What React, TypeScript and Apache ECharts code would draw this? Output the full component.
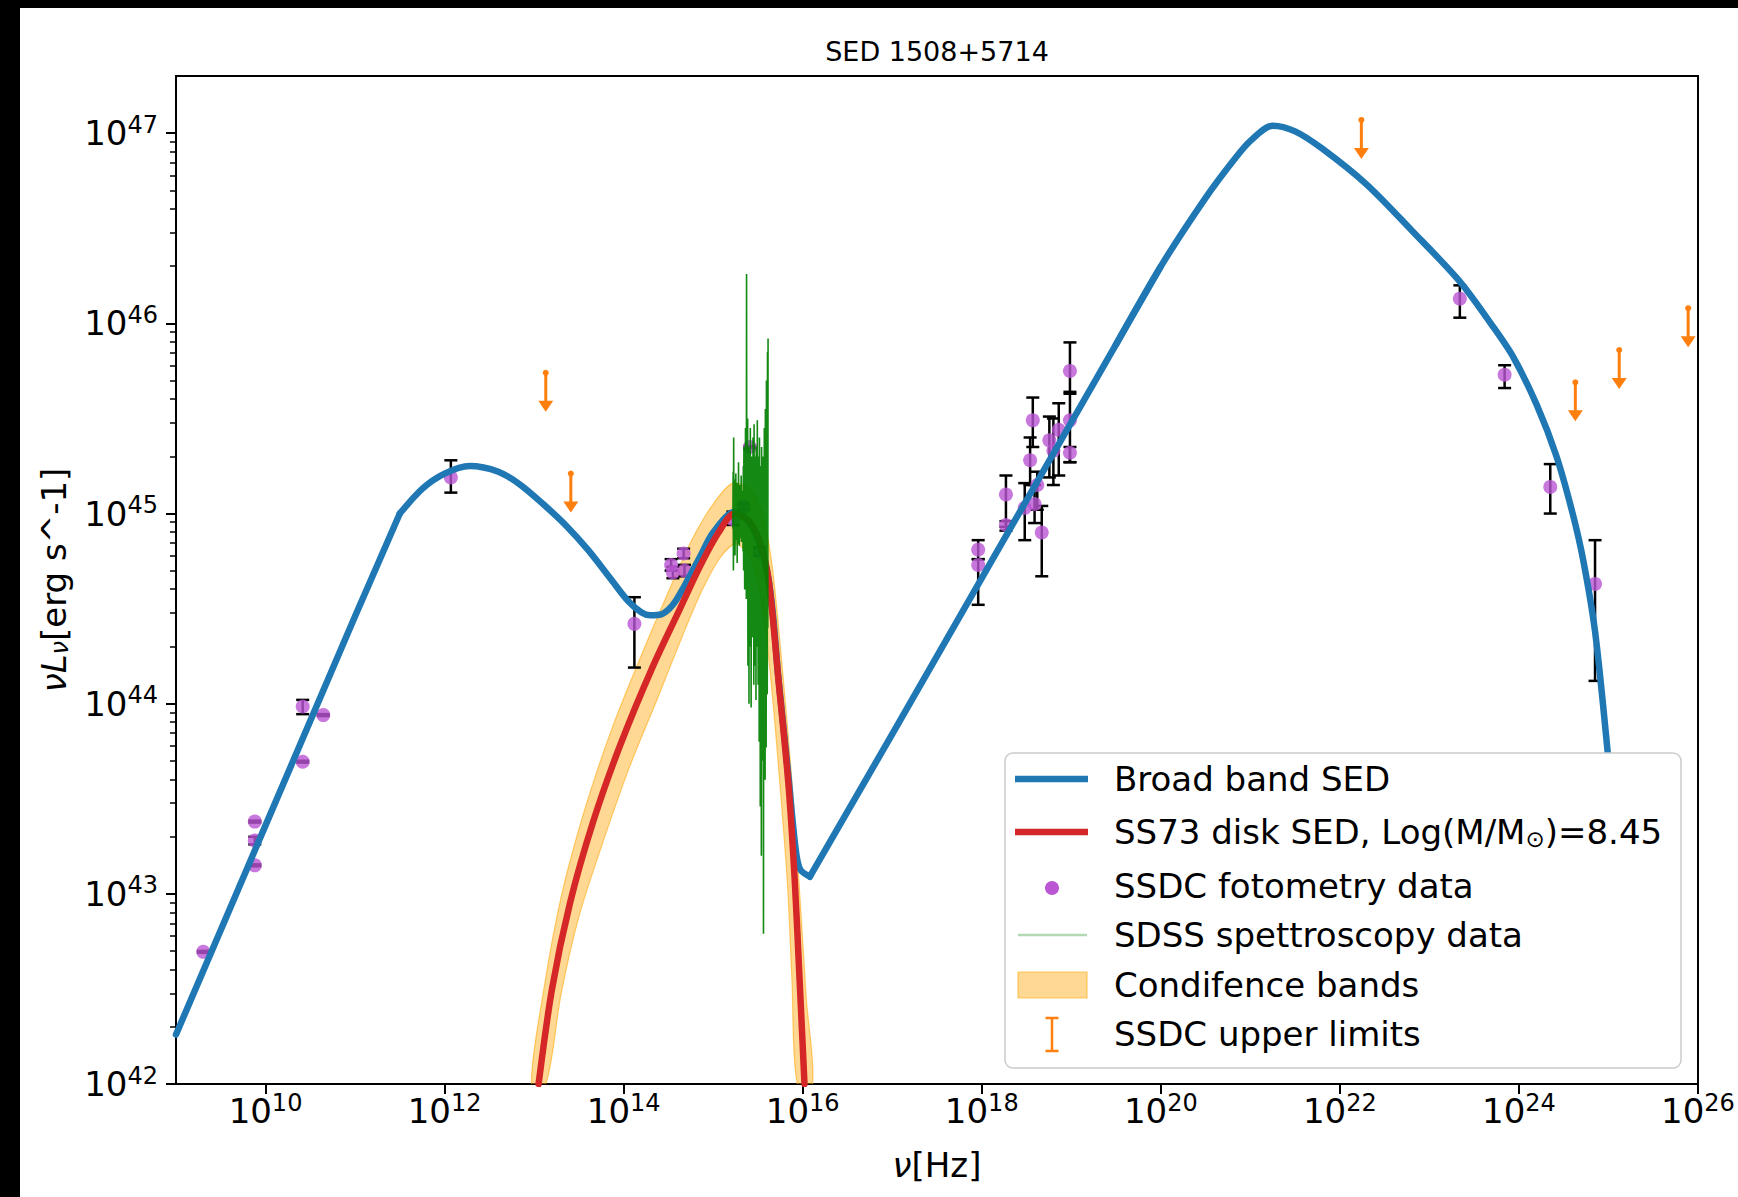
import React, { useEffect, useRef } from "react";
import * as echarts from "echarts";

const FONT = "DejaVu Sans";
const BLUE = "#1f77b4";
const RED = "#d62728";
const ORANGE = "#ff7f0e";
const PURPLE = "#ba55d3";
const BAND = "rgba(255, 165, 0, 0.42)";
const BAND_EDGE = "rgba(255, 165, 0, 0.55)";
const SPEC = "#008000";

const TITLE = "SED 1508+5714";

// All values are log10(nu / Hz) and log10(nu L_nu / erg s^-1)

// Broad band SED (blue)
const sedLogNu = [9.0, 10.0, 11.0, 11.5, 11.75, 12.0, 12.28, 12.6, 12.85, 13.1, 13.35, 13.6, 13.85, 14.05, 14.2, 14.3, 14.42, 14.55, 14.68, 14.85, 15.0, 15.24, 15.45, 15.62, 15.73, 15.84, 15.92, 15.97, 16.08, 17.0, 18.0, 19.0, 19.5, 20.0, 20.5, 20.8, 21.0, 21.25, 21.5, 21.8, 22.3, 22.8, 23.34, 23.7, 23.94, 24.2, 24.42, 24.6, 24.72, 24.85, 24.98, 25.1];
const sedLogL = [42.26, 43.36, 44.46, 45.0, 45.13, 45.21, 45.25, 45.22, 45.15, 45.05, 44.94, 44.81, 44.66, 44.54, 44.48, 44.465, 44.47, 44.52, 44.62, 44.77, 44.9, 45.01, 44.92, 44.65, 44.13, 43.62, 43.24, 43.13, 43.09, 43.84, 44.66, 45.48, 45.89, 46.3, 46.66, 46.85, 46.96, 47.04, 47.01, 46.92, 46.73, 46.49, 46.22, 45.99, 45.82, 45.57, 45.3, 45.0, 44.75, 44.38, 43.8, 43.2];
// where the broad band curve changes character: [start, end, smoothness]
const sedPieces = [
  [9.0, 11.5, 0],
  [11.5, 16.08, 0.3],
  [16.08, 20.0, 0],
  [19.5, 25.1, 0.3],
];

// SS73 disk SED (red)
const diskLogNu = [13.05, 13.2, 13.4, 13.66, 13.96, 14.33, 14.63, 14.85, 15.06, 15.24, 15.4, 15.52, 15.62, 15.73, 15.84, 15.91, 15.96, 16.02];
const diskLogL = [42.0, 42.5, 42.95, 43.38, 43.78, 44.2, 44.5, 44.72, 44.9, 45.0, 44.96, 44.85, 44.65, 44.12, 43.58, 43.08, 42.6, 42.0];

// Confidence band: outer edge then inner edge
const bandOuterLogNu = [12.97, 13.12, 13.31, 13.57, 13.87, 14.22, 14.52, 14.76, 15.0, 15.22, 15.42, 15.56, 15.66, 15.76, 15.87, 15.96, 16.04, 16.11];
const bandOuterLogL = [42.0, 42.53, 43.0, 43.45, 43.87, 44.28, 44.61, 44.86, 45.05, 45.16, 45.12, 44.98, 44.72, 44.25, 43.65, 43.05, 42.45, 42.0];
const bandInnerLogNu = [15.94, 15.88, 15.83, 15.75, 15.66, 15.56, 15.44, 15.26, 15.08, 14.88, 14.66, 14.38, 14.06, 13.76, 13.5, 13.3, 13.13];
const bandInnerLogL = [42.0, 42.55, 43.05, 43.55, 44.05, 44.48, 44.74, 44.84, 44.77, 44.6, 44.36, 44.03, 43.66, 43.26, 42.88, 42.47, 42.0];

// SDSS spectrum
const sdssSpectrum = [
  [15.22, 44.92], [15.223, 45.22], [15.226, 44.7], [15.229, 45.4], [15.232, 44.82], [15.235, 45.12], [15.238, 44.88], [15.241, 45.18], [15.244, 44.78], [15.247, 45.05],
  [15.25, 44.94], [15.253, 45.21], [15.256, 44.86], [15.259, 45.08], [15.262, 44.92], [15.265, 45.16], [15.268, 44.74], [15.271, 45.02], [15.274, 44.95], [15.277, 45.12],
  [15.28, 44.84], [15.283, 45.27], [15.286, 44.9], [15.289, 45.06], [15.292, 44.83], [15.295, 45.1], [15.298, 44.94], [15.301, 45.15], [15.304, 44.87], [15.307, 45.02],
  [15.31, 44.92], [15.313, 45.2], [15.316, 44.85], [15.319, 45.08], [15.322, 44.96], [15.325, 45.12], [15.328, 44.9], [15.331, 45.05],
  [15.334, 44.8], [15.337, 45.25], [15.34, 44.7], [15.343, 45.35], [15.346, 44.9], [15.349, 45.15], [15.352, 44.6], [15.355, 45.3], [15.358, 44.85], [15.361, 45.45],
  [15.364, 44.75], [15.367, 45.2], [15.37, 44.55], [15.373, 46.26], [15.376, 44.8], [15.379, 45.4], [15.382, 44.65], [15.385, 45.5], [15.388, 44.2], [15.391, 45.3],
  [15.394, 44.6], [15.397, 45.15], [15.4, 44.0], [15.403, 45.35], [15.406, 44.5], [15.409, 45.2], [15.412, 44.3], [15.415, 45.45], [15.418, 44.7], [15.421, 45.1],
  [15.424, 43.98], [15.427, 45.3], [15.43, 44.55], [15.433, 45.25], [15.436, 44.35], [15.439, 45.05], [15.442, 44.6], [15.445, 45.4],
  [15.448, 44.4], [15.451, 45.2], [15.454, 44.1], [15.457, 45.47], [15.46, 44.5], [15.463, 45.1], [15.466, 44.2], [15.469, 45.3], [15.472, 44.45], [15.475, 45.15],
  [15.478, 44.02], [15.481, 45.35], [15.484, 44.6], [15.487, 45.25], [15.49, 44.3], [15.493, 45.49], [15.496, 44.55], [15.499, 45.1], [15.502, 44.1], [15.505, 45.3],
  [15.508, 44.4], [15.511, 45.2], [15.514, 43.8], [15.517, 45.4], [15.52, 44.5], [15.523, 45.05], [15.526, 43.46], [15.529, 45.25], [15.532, 44.2], [15.535, 45.1],
  [15.538, 43.2], [15.541, 45.35], [15.544, 44.0], [15.547, 45.15], [15.55, 43.7], [15.553, 45.3], [15.556, 44.3], [15.559, 45.0], [15.562, 42.79], [15.565, 45.2],
  [15.568, 43.9], [15.571, 45.45], [15.574, 44.1], [15.577, 45.25], [15.58, 43.6], [15.583, 45.55], [15.586, 44.2], [15.589, 45.3], [15.592, 43.77], [15.595, 45.7],
  [15.598, 44.3], [15.601, 45.4], [15.604, 44.05], [15.607, 45.85], [15.61, 44.4], [15.613, 45.92]
];

// SSDC photometry (value, lower and upper end of error bar)
const photLogNu = [9.305, 9.88, 9.88, 9.88, 10.415, 10.415, 10.645, 12.07, 14.12, 14.53, 14.55, 14.67, 14.68, 15.22, 15.34, 15.41, 15.52, 17.96, 17.96, 18.27, 18.27, 18.48, 18.54, 18.57, 18.59, 18.62, 18.67, 18.755, 18.8, 18.86, 18.985, 18.985, 18.985, 23.34, 23.84, 24.35, 24.85];
const photLogL = [42.695, 43.38, 43.28, 43.15, 43.985, 43.695, 43.94, 45.19, 44.42, 44.73, 44.69, 44.79, 44.7, 44.97, 45.035, 45.35, 44.8, 44.81, 44.73, 45.1, 44.94, 45.03, 45.28, 45.49, 45.05, 45.15, 44.9, 45.385, 45.33, 45.44, 45.75, 45.49, 45.32, 46.13, 45.73, 45.14, 44.63];
const photErrLo = [42.69, 43.375, 43.26, 43.145, 43.945, 43.69, 43.935, 45.11, 44.19, 44.7, 44.66, 44.765, 44.67, 44.94, 45.02, 45.345, 44.78, 44.76, 44.52, 44.93, 44.91, 44.86, 45.15, 45.35, 44.95, 45.02, 44.67, 45.19, 45.15, 45.2, 45.63, 45.27, 45.27, 46.03, 45.66, 45.0, 44.12];
const photErrHi = [42.7, 43.385, 43.3, 43.155, 44.02, 43.7, 43.945, 45.28, 44.56, 44.76, 44.72, 44.815, 44.73, 45.01, 45.05, 45.355, 44.82, 44.86, 44.76, 45.2, 44.96, 45.16, 45.4, 45.61, 45.15, 45.22, 45.04, 45.51, 45.5, 45.58, 45.9, 45.64, 45.35, 46.2, 45.78, 45.26, 44.86];

// SSDC upper limits (top of the arrow)
const ulLogNu = [13.13, 13.41, 22.24, 24.63, 25.12, 25.89];
const ulLogL = [45.74, 45.21, 47.07, 45.69, 45.86, 46.08];

// Axes
const X_MIN = 9;
const X_MAX = 26;
const Y_MIN = 42;
const Y_MAX = 47.301;
const xTickExps = [10, 12, 14, 16, 18, 20, 22, 24, 26];
const yTickExps = [42, 43, 44, 45, 46, 47];
const yMinorMultipliers = [2, 3, 4, 5, 6, 7, 8, 9];

const legendLabels = [
  "Broad band SED",
  "SS73 disk SED, Log(M/M\u2299)=8.45",
  "SSDC fotometry data",
  "SDSS spettroscopy data",
  "Condifence bands",
  "SSDC upper limits",
];

const FS = 34;
const FS_SUP = 24;

function buildOption(): any {
  const yMinor: number[] = [];
  for (let e = Y_MIN; e < 47; e++) {
    for (const m of yMinorMultipliers) yMinor.push(e + Math.log10(m));
  }

  const sed = sedLogNu.map((v, i) => [v, sedLogL[i]]);
  const disk = diskLogNu.map((v, i) => [v, diskLogL[i]]);
  const phot = photLogNu.map((v, i) => [v, photLogL[i]]);
  const err = photLogNu.map((v, i) => [v, photErrLo[i], photErrHi[i]]);
  const ul = ulLogNu.map((v, i) => [v, ulLogL[i]]);

  const sedSeries = sedPieces.map(([a, b, sm]) => ({
    type: "line",
    name: "Broad band SED",
    data: sed.filter((p) => p[0] >= a - 1e-9 && p[0] <= b + 1e-9),
    showSymbol: false,
    symbol: "none",
    smooth: sm > 0 ? sm : false,
    clip: true,
    lineStyle: { color: BLUE, width: 6.5, cap: "round", join: "round" },
  }));

  const supRich = {
    b: { fontSize: FS, fontFamily: FONT, color: "#000", verticalAlign: "middle", lineHeight: 38 },
    s: { fontSize: FS_SUP, fontFamily: FONT, color: "#000", verticalAlign: "middle", lineHeight: 26, padding: [0, 0, 17, 0] },
  };
  const expFormatter = (v: number) => {
    const r = Math.round(v);
    if (Math.abs(v - r) > 1e-6) return "";
    return `{b|10}{s|${r}}`;
  };

  const CAP = 6.5;
  const UL_LEN = 39;
  const UL_HEAD = 11;
  const UL_HW = 7.5;

  const legendRows = [779, 832, 886, 935, 985, 1034];
  const LX0 = 1015, LX1 = 1088, LXC = 1052, LTX = 1114;
  const LZ = 100;
  const textStyle = (t: string) => ({ text: t, fontSize: FS, fontFamily: FONT, fill: "#000", align: "left", verticalAlign: "middle" });

  return {
    animation: false,
    backgroundColor: "#ffffff",
    grid: { left: 176, top: 76, width: 1522, height: 1008, show: true, borderColor: "#000", borderWidth: 2, backgroundColor: "transparent", containLabel: false },
    xAxis: {
      type: "value",
      min: X_MIN,
      max: X_MAX,
      axisLine: { show: false },
      splitLine: { show: false },
      axisTick: { show: true, customValues: xTickExps, length: 10, lineStyle: { color: "#000", width: 2 } },
      axisLabel: { customValues: xTickExps, margin: 8, formatter: expFormatter, rich: supRich },
      name: "{i|\u03bd}{n|[Hz]}",
      nameLocation: "middle",
      nameGap: 64,
      nameTextStyle: {
        rich: {
          i: { fontSize: FS, fontFamily: FONT, fontStyle: "italic", color: "#000" },
          n: { fontSize: FS, fontFamily: FONT, color: "#000" },
        },
      },
    },
    yAxis: [
      {
        type: "value",
        min: Y_MIN,
        max: Y_MAX,
        axisLine: { show: false },
        splitLine: { show: false },
        axisTick: { show: true, customValues: yTickExps, length: 10, lineStyle: { color: "#000", width: 2 } },
        axisLabel: { customValues: yTickExps, margin: 18, formatter: expFormatter, rich: supRich },
        name: "{i|\u03bdL}{sub|\u03bd}{n|[erg s^-1]}",
        nameLocation: "middle",
        nameRotate: 90,
        nameGap: 104,
        nameTextStyle: {
          rich: {
            i: { fontSize: FS, fontFamily: FONT, fontStyle: "italic", color: "#000", verticalAlign: "middle" },
            sub: { fontSize: FS_SUP, fontFamily: FONT, fontStyle: "italic", color: "#000", verticalAlign: "middle", padding: [12, 0, 0, 0] },
            n: { fontSize: FS, fontFamily: FONT, color: "#000", verticalAlign: "middle" },
          },
        },
      },
      {
        type: "value",
        min: Y_MIN,
        max: Y_MAX,
        position: "left",
        axisLine: { show: false },
        splitLine: { show: false },
        axisLabel: { show: false },
        axisTick: { show: true, customValues: yMinor, length: 6, lineStyle: { color: "#000", width: 1.5 } },
      },
    ],
    series: [
      {
        type: "custom",
        name: "Condifence bands",
        clip: true,
        data: [[15.2, 44.5]],
        renderItem: (params: any, api: any) => {
          const pts: number[][] = [];
          bandOuterLogNu.forEach((v, i) => pts.push(api.coord([v, bandOuterLogL[i]])));
          bandInnerLogNu.forEach((v, i) => pts.push(api.coord([v, bandInnerLogL[i]])));
          return { type: "polygon", shape: { points: pts, smooth: 0.3 }, style: { fill: BAND, stroke: BAND_EDGE, lineWidth: 1.2 } };
        },
      },
      ...sedSeries,
      {
        type: "line",
        name: "SS73 disk SED",
        data: disk,
        showSymbol: false,
        symbol: "none",
        smooth: 0.3,
        clip: true,
        lineStyle: { color: RED, width: 6.5, cap: "round", join: "round" },
      },
      {
        type: "line",
        name: "SDSS spettroscopy data",
        data: sdssSpectrum,
        showSymbol: false,
        symbol: "none",
        clip: true,
        lineStyle: { color: SPEC, width: 1.6, opacity: 0.92 },
      },
      {
        type: "scatter",
        name: "SSDC fotometry data",
        data: phot,
        symbol: "circle",
        symbolSize: 14,
        itemStyle: { color: PURPLE },
      },
      {
        type: "custom",
        name: "errors",
        clip: false,
        data: err,
        encode: { x: 0, y: [1, 2] },
        renderItem: (params: any, api: any) => {
          const x = api.value(0);
          const a = api.coord([x, api.value(2)]);
          const b = api.coord([x, api.value(1)]);
          const st = () => ({ stroke: "#000", lineWidth: 2.5 });
          return {
            type: "group",
            children: [
              { type: "line", shape: { x1: a[0], y1: a[1], x2: b[0], y2: b[1] }, style: st() },
              { type: "line", shape: { x1: a[0] - CAP, y1: a[1], x2: a[0] + CAP, y2: a[1] }, style: st() },
              { type: "line", shape: { x1: b[0] - CAP, y1: b[1], x2: b[0] + CAP, y2: b[1] }, style: st() },
            ],
          };
        },
      },
      {
        type: "custom",
        name: "SSDC upper limits",
        clip: false,
        data: ul,
        encode: { x: 0, y: 1 },
        renderItem: (params: any, api: any) => {
          const p = api.coord([api.value(0), api.value(1)]);
          const yb = p[1] + UL_LEN - UL_HEAD;
          return {
            type: "group",
            children: [
              { type: "line", shape: { x1: p[0], y1: p[1], x2: p[0], y2: yb + 1 }, style: { stroke: ORANGE, lineWidth: 3 } },
              { type: "polygon", shape: { points: [[p[0] - UL_HW, yb], [p[0] + UL_HW, yb], [p[0], p[1] + UL_LEN]] }, style: { fill: ORANGE } },
              { type: "circle", shape: { cx: p[0], cy: p[1], r: 3 }, style: { fill: ORANGE } },
            ],
          };
        },
      },
    ],
    graphic: [
      { type: "rect", z: 200, silent: true, shape: { x: 0, y: 0, width: 20, height: 1197 }, style: { fill: "#000" } },
      { type: "rect", z: 200, silent: true, shape: { x: 0, y: 0, width: 1738, height: 8 }, style: { fill: "#000" } },
      {
        type: "text", z: LZ, x: 937, y: 51,
        style: { text: TITLE, fontSize: 27, fontFamily: FONT, fill: "#000", align: "center", verticalAlign: "middle" },
      },
      { type: "rect", z: LZ, shape: { x: 1005, y: 753, width: 676, height: 315, r: 8 }, style: { fill: "#ffffff", stroke: "#cccccc", lineWidth: 1.5 } },
      { type: "line", z: LZ, shape: { x1: LX0, y1: legendRows[0], x2: LX1, y2: legendRows[0] }, style: { stroke: BLUE, lineWidth: 6.5 } },
      { type: "text", z: LZ, x: LTX, y: legendRows[0], style: textStyle(legendLabels[0]) },
      { type: "line", z: LZ, shape: { x1: LX0, y1: legendRows[1], x2: LX1, y2: legendRows[1] }, style: { stroke: RED, lineWidth: 6.5 } },
      {
        type: "text", z: LZ, x: LTX, y: legendRows[1],
        style: {
          text: "{n|SS73 disk SED, Log(M/M}{s|\u2299}{n|)=8.45}",
          align: "left",
          verticalAlign: "middle",
          rich: {
            n: { fontSize: FS, fontFamily: FONT, fill: "#000", verticalAlign: "middle" },
            s: { fontSize: 23, fontFamily: FONT, fill: "#000", verticalAlign: "middle", padding: [14, 0, 0, 0] },
          },
        },
      },
      { type: "circle", z: LZ, shape: { cx: LXC, cy: legendRows[2] + 2, r: 7 }, style: { fill: PURPLE } },
      { type: "text", z: LZ, x: LTX, y: legendRows[2], style: textStyle(legendLabels[2]) },
      { type: "line", z: LZ, shape: { x1: LX0 + 3, y1: legendRows[3], x2: LX1 - 1, y2: legendRows[3] }, style: { stroke: "rgba(0,128,0,0.3)", lineWidth: 2.5 } },
      { type: "text", z: LZ, x: LTX, y: legendRows[3], style: textStyle(legendLabels[3]) },
      { type: "rect", z: LZ, shape: { x: 1018, y: legendRows[4] - 13, width: 69, height: 26 }, style: { fill: BAND, stroke: BAND_EDGE, lineWidth: 1.2 } },
      { type: "text", z: LZ, x: LTX, y: legendRows[4], style: textStyle(legendLabels[4]) },
      { type: "line", z: LZ, shape: { x1: LXC, y1: legendRows[5] - 16, x2: LXC, y2: legendRows[5] + 17 }, style: { stroke: ORANGE, lineWidth: 2.5 } },
      { type: "line", z: LZ, shape: { x1: LXC - CAP, y1: legendRows[5] - 16, x2: LXC + CAP, y2: legendRows[5] - 16 }, style: { stroke: ORANGE, lineWidth: 2.5 } },
      { type: "line", z: LZ, shape: { x1: LXC - CAP, y1: legendRows[5] + 17, x2: LXC + CAP, y2: legendRows[5] + 17 }, style: { stroke: ORANGE, lineWidth: 2.5 } },
      { type: "text", z: LZ, x: LTX, y: legendRows[5], style: textStyle(legendLabels[5]) },
    ],
  };
}

export default function App() {
  const ref = useRef<HTMLDivElement>(null);
  useEffect(() => {
    if (!ref.current) return;
    const chart = echarts.init(ref.current, undefined, { renderer: "svg" });
    chart.setOption(buildOption());
    return () => chart.dispose();
  }, []);
  return (
    <div
      ref={ref}
      style={{ position: "absolute", left: 0, top: 0, width: 1738, height: 1197, background: "#fff" }}
    />
  );
}
